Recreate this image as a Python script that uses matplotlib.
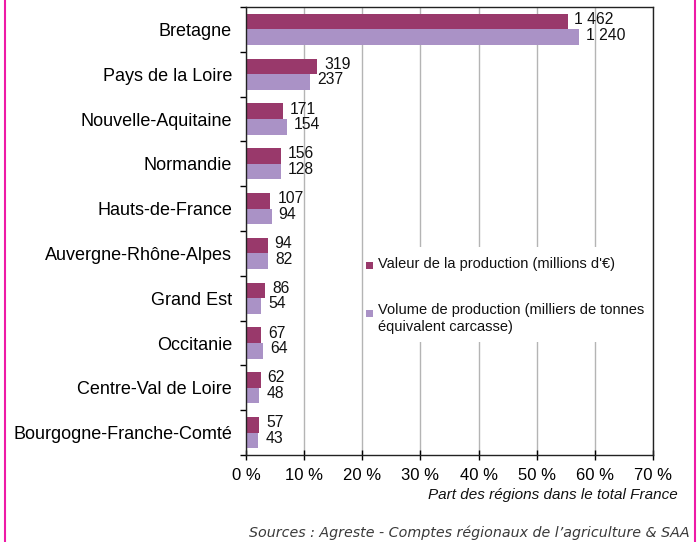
import matplotlib
matplotlib.use("Agg")
import matplotlib.pyplot as plt
from matplotlib.patches import Rectangle
from matplotlib.lines import Line2D
import numpy as np

regions = ["Bretagne", "Pays de la Loire", "Nouvelle-Aquitaine", "Normandie",
           "Hauts-de-France", "Auvergne-Rhône-Alpes", "Grand Est", "Occitanie",
           "Centre-Val de Loire", "Bourgogne-Franche-Comté"]
valeur_pct = [55.3, 12.2, 6.4, 6.0, 4.2, 3.7, 3.3, 2.6, 2.5, 2.3]
volume_pct = [57.2, 11.0, 7.1, 6.0, 4.4, 3.8, 2.6, 3.0, 2.3, 2.1]
valeur_lbl = ["1 462", "319", "171", "156", "107", "94", "86", "67", "62", "57"]
volume_lbl = ["1 240", "237", "154", "128", "94", "82", "54", "64", "48", "43"]
xticks = [0, 10, 20, 30, 40, 50, 60, 70]
xtick_labels = ["0 %", "10 %", "20 %", "30 %", "40 %", "50 %", "60 %", "70 %"]
legend_labels = ["Valeur de la production (millions d'€)",
                 "Volume de production (milliers de tonnes\néquivalent carcasse)"]

c_val = "#99396b"
c_vol = "#aa92c6"
magenta = "#ee1aa6"
font = "Liberation Sans"

W, H = 697, 542
fig = plt.figure(figsize=(W / 100, H / 100), dpi=100)
ax = fig.add_axes([246 / W, (H - 455) / H, 407 / W, 448 / H])


def fx(px):
    return px / W


def fy(py):
    return 1 - py / H


y = np.arange(len(regions))
bh = 0.35
ax.barh(y - bh / 2, valeur_pct, height=bh, color=c_val, zorder=3)
ax.barh(y + bh / 2, volume_pct, height=bh, color=c_vol, zorder=3)

for i in range(len(regions)):
    ax.annotate(valeur_lbl[i], (valeur_pct[i], y[i] - bh / 2), xytext=(5, 1.5),
                textcoords="offset points", va="center", ha="left",
                fontsize=11.3, family=font, color="#111111", zorder=4)
    ax.annotate(volume_lbl[i], (volume_pct[i], y[i] + bh / 2), xytext=(5, 1.5),
                textcoords="offset points", va="center", ha="left",
                fontsize=11.3, family=font, color="#111111", zorder=4)

ax.set_xlim(0, 70)
ax.set_ylim(len(regions) - 0.5, -0.5)
ax.set_xticks(xticks)
ax.set_xticklabels(xtick_labels, family=font, fontsize=12)
ax.set_yticks(y)
ax.set_yticklabels(regions, family=font, fontsize=13)
ax.set_yticks(np.arange(-0.5, len(regions) + 0.5, 1), minor=True)
ax.tick_params(axis="y", which="major", length=0, pad=10)
ax.tick_params(axis="y", which="minor", length=4, direction="out", width=1)
ax.tick_params(axis="x", which="major", length=7, direction="inout", width=1, pad=6)
ax.grid(axis="x", color="#b4b4b4", linewidth=1, zorder=0)
for s in ax.spines.values():
    s.set_color("#222222")
    s.set_linewidth(1)
    s.set_zorder(6)

# legend area (white background hiding gridlines)
fig.add_artist(Rectangle((fx(364), fy(342)), fx(651) - fx(364), fy(247) - fy(342),
                         facecolor="white", edgecolor="none",
                         transform=fig.transFigure, zorder=5))
fig.add_artist(Rectangle((fx(366), fy(269)), fx(7), fy(0) - fy(7),
                         facecolor=c_val, edgecolor="none",
                         transform=fig.transFigure, zorder=6))
fig.add_artist(Rectangle((fx(366), fy(316.5)), fx(7), fy(0) - fy(7),
                         facecolor=c_vol, edgecolor="none",
                         transform=fig.transFigure, zorder=6))
fig.text(fx(378), fy(264), legend_labels[0], ha="left", va="center",
         fontsize=10.5, family=font, color="#111111", zorder=7)
fig.text(fx(378), fy(303), legend_labels[1], ha="left", va="top",
         fontsize=10.5, family=font, color="#111111", linespacing=1.3, zorder=7)

fig.text(fx(678), fy(495), "Part des régions dans le total France",
         ha="right", va="center", fontsize=11, style="italic", family=font,
         color="#111111")
fig.text(fx(690), fy(533),
         "Sources : Agreste - Comptes régionaux de l’agriculture & SAA",
         ha="right", va="center", fontsize=10.3, style="italic",
         family="DejaVu Sans", color="#3a3a3a")

fig.add_artist(Line2D([fx(4.5), fx(4.5)], [0, 1], color=magenta, lw=1.5,
                      transform=fig.transFigure))
fig.add_artist(Line2D([fx(694.5), fx(694.5)], [0, 1], color=magenta, lw=1.5,
                      transform=fig.transFigure))

fig.savefig("out.png", dpi=100)
